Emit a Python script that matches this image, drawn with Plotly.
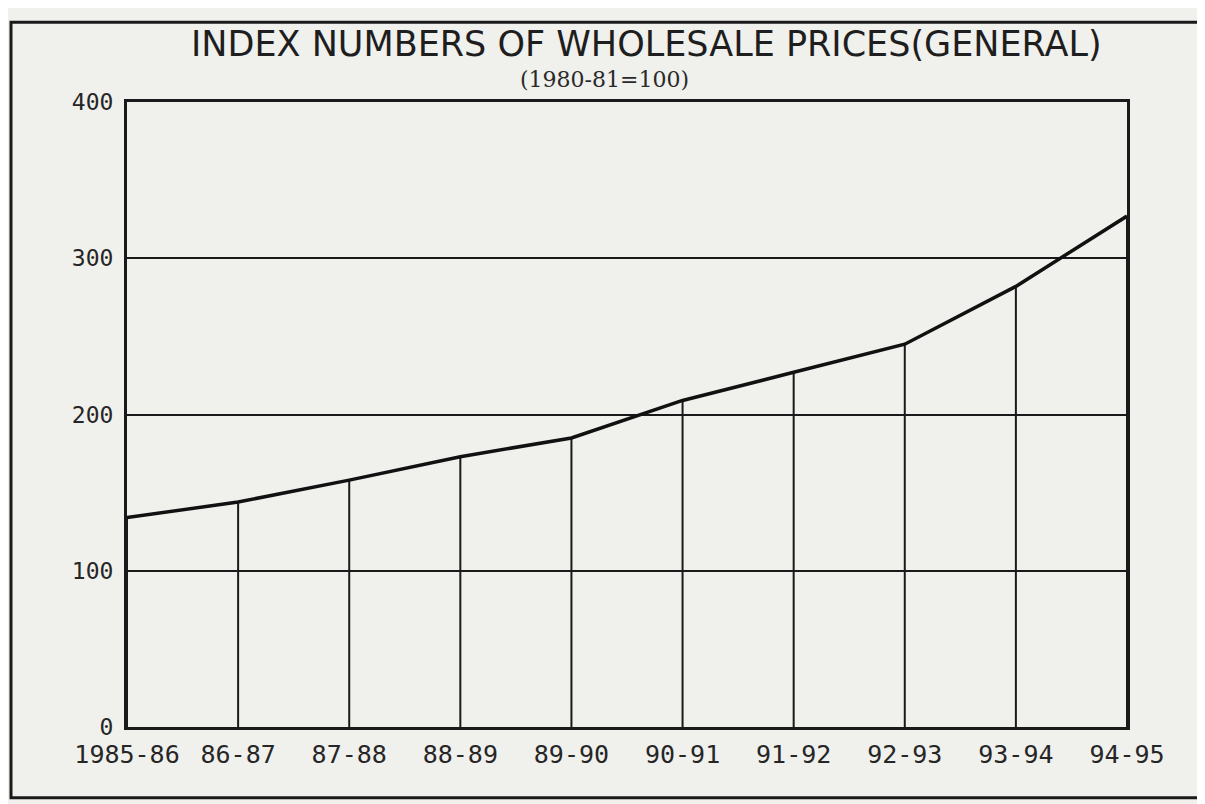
import plotly.graph_objects as go

years = ["1985-86", "86-87", "87-88", "88-89", "89-90", "90-91", "91-92", "92-93", "93-94", "94-95"]
index_values = [134, 144, 158, 173, 185, 209, 227, 245, 282, 327]
y_ticks = [0, 100, 200, 300, 400]

xs = list(range(len(years)))

# vertical drop lines from each point to the axis
drop_x, drop_y = [], []
for xi, v in zip(xs, index_values):
    drop_x += [xi, xi, None]
    drop_y += [0, v, None]

fig = go.Figure()
fig.add_trace(go.Scatter(x=drop_x, y=drop_y, mode="lines",
                         line=dict(color="#1a1a1a", width=2), hoverinfo="skip", showlegend=False))
fig.add_trace(go.Scatter(x=xs, y=index_values, mode="lines",
                         line=dict(color="#111111", width=3.5), showlegend=False))

paper = "#f0f0ed"
# screen px -> paper coords (plot area spans x 125..1125, y 100..727 on screen)
px = lambda v: (v - 125) / 1000
py = lambda v: (727 - v) / 627

fig.update_layout(
    width=1205, height=804,
    paper_bgcolor=paper, plot_bgcolor=paper,
    margin=dict(l=119, r=86, t=94, b=85),
    xaxis=dict(range=[0, 9], tickmode="array", tickvals=xs, ticktext=years,
               showgrid=False, zeroline=False, ticks="",
               showline=True, linecolor="#1a1a1a", linewidth=2.5, mirror=True,
               tickfont=dict(family="DejaVu Sans Mono", size=25, color="#262626"),
               ticklabelstandoff=3),
    yaxis=dict(range=[0, 400], tickvals=y_ticks, showgrid=True, gridcolor="#1a1a1a",
               gridwidth=1.8, zeroline=False, ticks="",
               showline=True, linecolor="#1a1a1a", linewidth=3, mirror=True,
               tickfont=dict(family="DejaVu Sans Mono", size=23, color="#262626"),
               ticklabelstandoff=6),
    annotations=[
        dict(text="INDEX NUMBERS OF WHOLESALE PRICES(GENERAL)", xref="paper", yref="paper",
             x=px(644), y=py(42), xanchor="center", yanchor="middle",
             showarrow=False, font=dict(family="DejaVu Sans", size=35, color="#1e1e1e")),
        dict(text="(1980-81=100)", xref="paper", yref="paper",
             x=px(602), y=py(77), xanchor="center", yanchor="middle",
             showarrow=False, font=dict(family="DejaVu Serif", size=22, color="#2a2a2a")),
    ],
    shapes=[
        dict(type="rect", xref="paper", yref="paper",
             x0=px(9), x1=px(1200), y0=py(798), y1=py(20),
             line=dict(color="#1a1a1a", width=3), layer="below"),
    ],
)

fig.write_html("out.html")
